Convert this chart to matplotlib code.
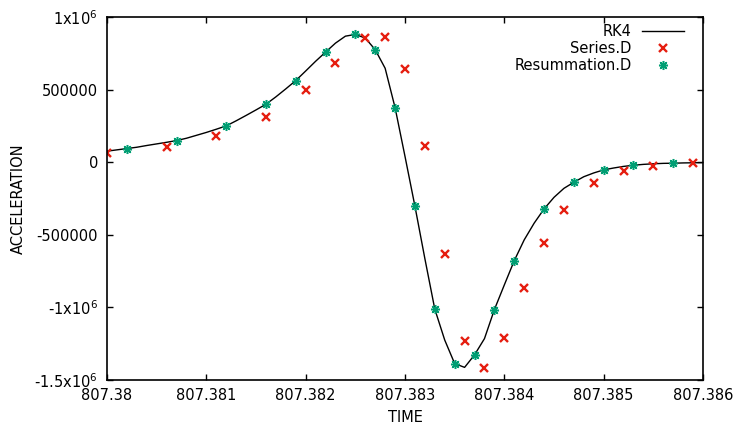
import numpy as np
import matplotlib.pyplot as plt

# RK4 reference solution, sampled every 1e-4 in time
rk4_t = 807.38 + np.arange(61) * 0.0001
rk4_acc = [
    76000, 85000, 94000, 103000, 115000, 126000, 137000, 149000, 165000, 185000,
    205000, 227000, 250000, 285000, 322000, 360000, 399000, 450000, 505000, 562000,
    628000, 695000, 758000, 820000, 868000, 880000, 855000, 775000, 647000, 376000,
    40000, -303000, -664000, -1012000, -1225000, -1387000, -1413000, -1327000, -1215000, -1015000,
    -845000, -678000, -535000, -420000, -322000, -242000, -180000, -138000, -100000, -74000,
    -53000, -40000, -29000, -21000, -15000, -11000, -8000, -7000, -5000, -4000,
    -3000,
]

# series solution (Series.D)
series_t = [807.3800, 807.3806, 807.3811, 807.3816, 807.3820, 807.3823, 807.3826,
            807.3828, 807.3830, 807.3832, 807.3834, 807.3836, 807.3838, 807.3840,
            807.3842, 807.3844, 807.3846, 807.3849, 807.3852, 807.3855, 807.3859]
series_acc = [62000, 107000, 181000, 312000, 500000, 686000, 858000,
              861000, 643000, 110000, -632000, -1233000, -1415000, -1210000,
              -866000, -554000, -326000, -140000, -60000, -23000, -7000]

# resummed series (Resummation.D)
resum_t = [807.3802, 807.3807, 807.3812, 807.3816, 807.3819, 807.3822, 807.3825,
           807.3827, 807.3829, 807.3831, 807.3833, 807.3835, 807.3837, 807.3839,
           807.3841, 807.3844, 807.3847, 807.3850, 807.3853, 807.3857]
resum_acc = [94000, 149000, 250000, 399000, 562000, 758000, 886000,
             775000, 376000, -303000, -1012000, -1387000, -1327000, -1015000,
             -678000, -322000, -138000, -53000, -21000, -7000]

x_ticks = [807.380, 807.381, 807.382, 807.383, 807.384, 807.385, 807.386]
x_labels = ['807.38', '807.381', '807.382', '807.383', '807.384', '807.385', '807.386']
y_ticks = [1e6, 5e5, 0, -5e5, -1e6, -1.5e6]
y_labels = [r'1x10$^{6}$', '500000', '0', '-500000', r'-1x10$^{6}$', r'-1.5x10$^{6}$']

fs = 10.5
fig = plt.figure(figsize=(7.34, 4.32), dpi=100)
ax = fig.add_axes([107 / 734, 1 - 380 / 432, 596 / 734, 363 / 432])

ax.plot(rk4_t, rk4_acc, color='black', lw=1.0, label='RK4')
ax.plot(series_t, series_acc, ls='none', marker='x', ms=6, mew=1.7,
        color='#e51e10', label='Series.D')
ax.plot(resum_t, resum_acc, ls='none', marker=(8, 2, 0), ms=6.5, mew=1.1,
        color='#009e73', label='Resummation.D')

ax.set_xlim(807.38, 807.386)
ax.set_ylim(-1.5e6, 1e6)
ax.set_xticks(x_ticks)
ax.set_xticklabels(x_labels)
ax.set_yticks(y_ticks)
ax.set_yticklabels(y_labels)
ax.tick_params(direction='in', length=4.5, width=1, top=True, right=True,
               labelsize=fs, colors='black')
ax.tick_params(axis='x', pad=6)
ax.tick_params(axis='y', pad=6.5)
for s in ax.spines.values():
    s.set_linewidth(1.2)

ax.set_xlabel('TIME', fontsize=fs, labelpad=5)
ax.set_ylabel('ACCELERATION', fontsize=fs, labelpad=6)

ax.legend(loc='upper right', bbox_to_anchor=((684 - 107) / 596, (380 - 24) / 363),
          markerfirst=False, frameon=False, fontsize=fs, numpoints=1,
          handlelength=2.9, handletextpad=0.7, labelspacing=0.15,
          borderpad=0, borderaxespad=0)

fig.savefig('out.png', dpi=100)
